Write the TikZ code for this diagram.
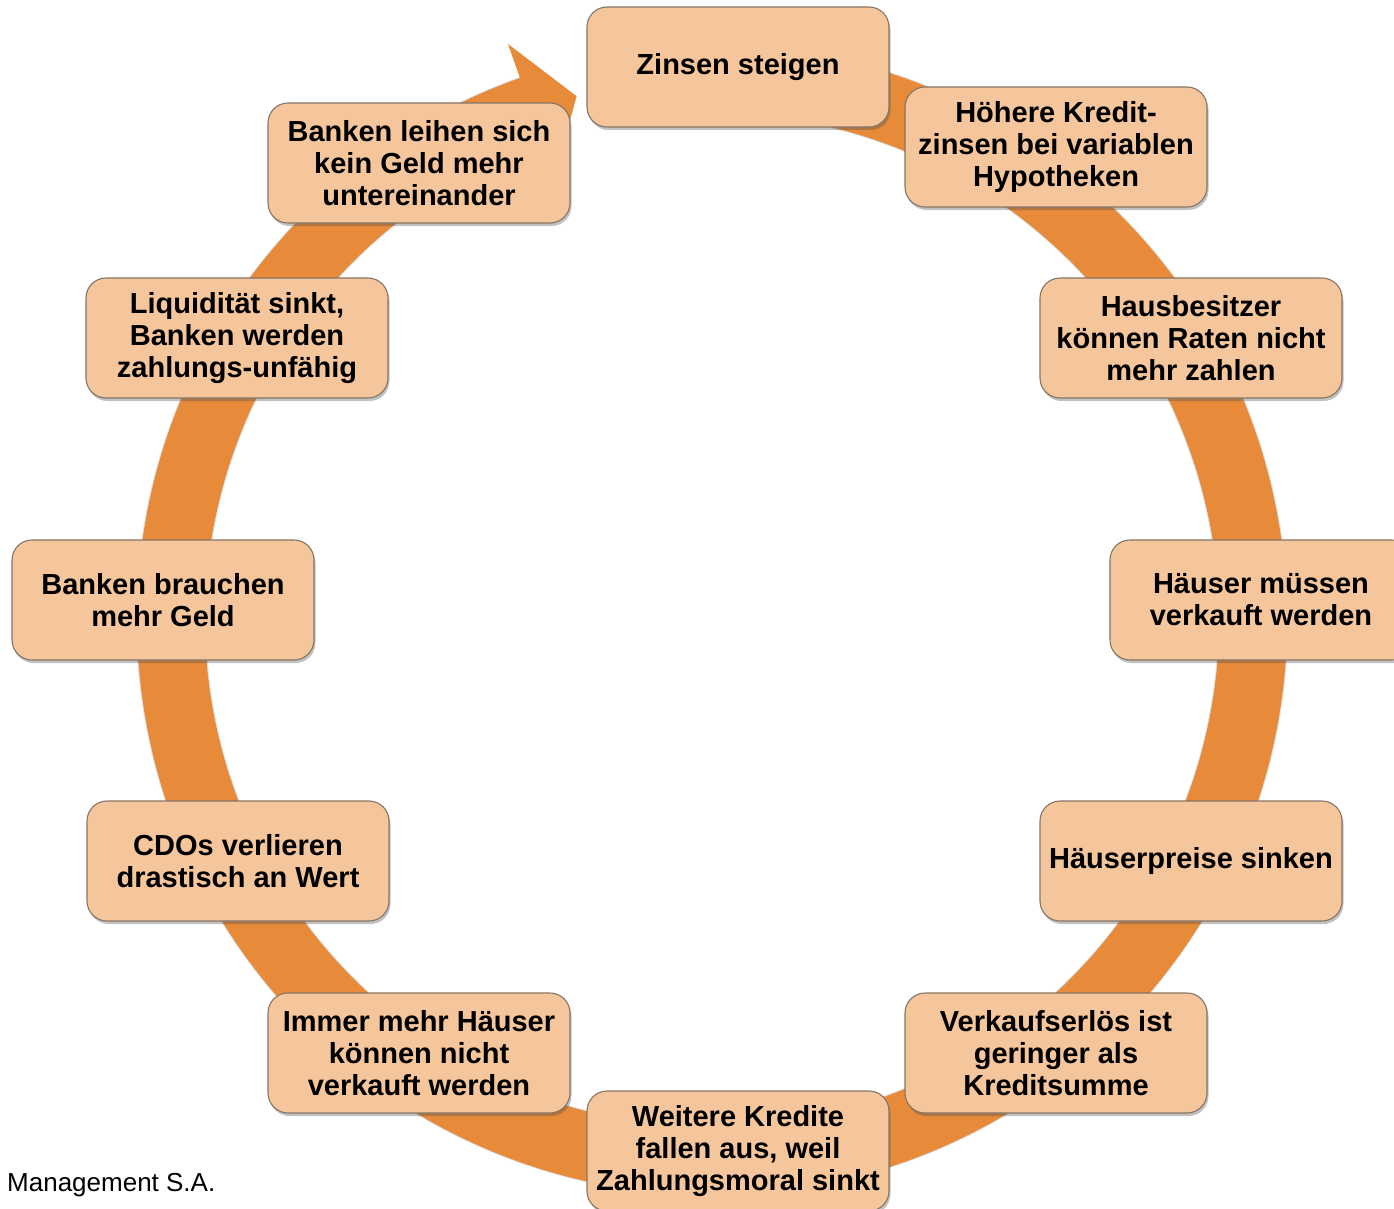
\documentclass[tikz,border=0pt]{standalone}
\usepackage{fontspec}
\setmainfont{Liberation Sans}
\usetikzlibrary{shadows}
\definecolor{ringorange}{HTML}{E78A3A}
\definecolor{boxfill}{HTML}{F5C69C}
\definecolor{boxline}{HTML}{857565}
\begin{document}
\begin{tikzpicture}[x=1pt,y=-1pt,
  stagebox/.style={draw=boxline, line width=1.1pt, fill=boxfill, rounded corners=20pt,
    minimum width=302pt, minimum height=120pt, inner sep=0pt, align=center,
    font=\fontsize{29}{32}\selectfont\bfseries,
    drop shadow={shadow xshift=1.5pt, shadow yshift=-3pt, opacity=0.35, fill=black!70}},
  note/.style={font=\fontsize{26}{30}\selectfont, anchor=base west, inner sep=0pt}]
\useasboundingbox (0,0) rectangle (1394,1209);
\coordinate (c) at (712,620);
% ring with arrowhead
\fill[black, opacity=0.12, shift={(-1.5pt,-1.5pt)}]
  ([shift={(-100:576)}]c) arc[start angle=-100, end angle=250.5, radius=576]
  -- ([shift={(250.5:611)}]c) -- ([shift={(255.5:541)}]c) -- ([shift={(250.5:471)}]c)
  -- ([shift={(250.5:506)}]c) arc[start angle=250.5, end angle=-100, radius=506] -- cycle;
\fill[ringorange]
  ([shift={(-100:575)}]c) arc[start angle=-100, end angle=250.5, radius=575]
  -- ([shift={(250.5:611)}]c) coordinate (ahback) -- ([shift={(255.5:541)}]c) coordinate (ahtip)
  -- ([shift={(250.5:471)}]c) -- ([shift={(250.5:507)}]c)
  arc[start angle=250.5, end angle=-100, radius=507] -- cycle;
% boxes
\node[stagebox] (s1) at (738,67) {Zinsen steigen};
\node[stagebox] (s2) at (1056,147) {Höhere Kredit-\\zinsen bei variablen\\Hypotheken};
\node[stagebox] (s3) at (1191,338) {Hausbesitzer\\können Raten nicht\\mehr zahlen};
\node[stagebox] (s4) at (1261,600) {Häuser müssen\\verkauft werden};
\node[stagebox] (s5) at (1191,861) {Häuserpreise sinken};
\node[stagebox] (s6) at (1056,1053) {Verkaufserlös ist\\geringer als\\Kreditsumme};
\node[stagebox] (s7) at (738,1151) {Weitere Kredite\\fallen aus, weil\\Zahlungsmoral sinkt};
\node[stagebox] (s8) at (419,1053) {Immer mehr Häuser\\können nicht\\verkauft werden};
\node[stagebox] (s9) at (238,861) {CDOs verlieren\\drastisch an Wert};
\node[stagebox] (s10) at (163,600) {Banken brauchen\\mehr Geld};
\node[stagebox] (s11) at (237,338) {Liquidität sinkt,\\Banken werden\\zahlungs-unfähig};
\node[stagebox] (s12) at (419,163) {Banken leihen sich\\kein Geld mehr\\untereinander};
\node[note] (src) at (7,1191) {Management S.A.};
\end{tikzpicture}
\end{document}
